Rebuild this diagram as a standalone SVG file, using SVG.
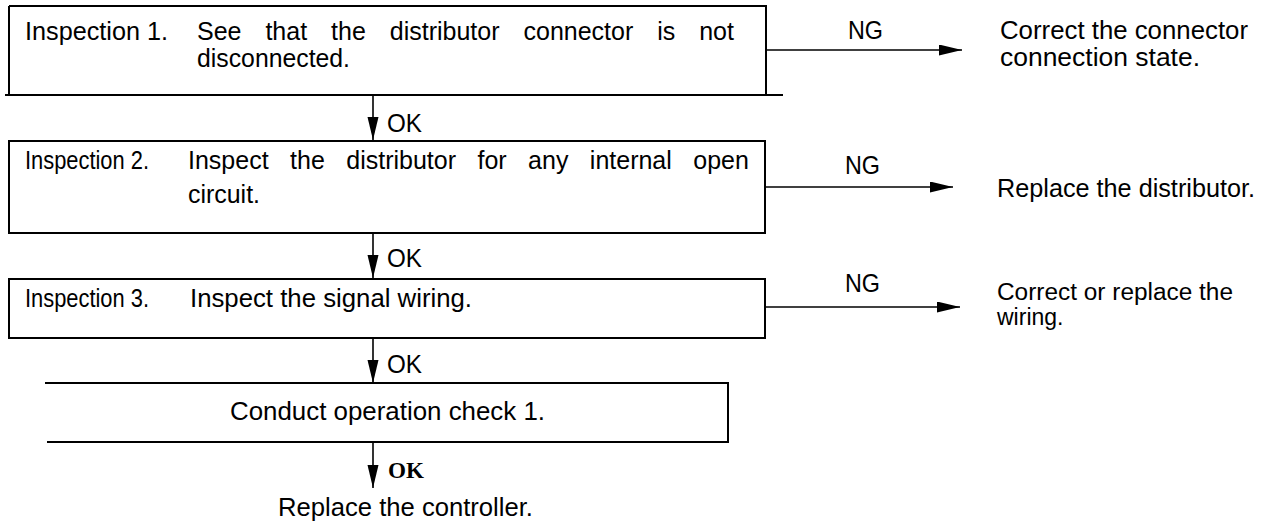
<svg xmlns="http://www.w3.org/2000/svg" width="1270" height="525" viewBox="0 0 1270 525">
<defs>
<marker id="ah" markerUnits="userSpaceOnUse" markerWidth="24" markerHeight="12" refX="23" refY="5.5" orient="auto">
<path d="M0,0 L23,5.5 L0,11 Z" fill="#000"/>
</marker>
</defs>
<style>
.box{fill:none;stroke:#000;stroke-width:2}
.ln{fill:none;stroke:#000;stroke-width:1.6}
.t{font-family:"Liberation Sans",Arial,sans-serif;font-size:25px;fill:#000}
.s{font-size:23px}
.ok2{font-family:"Liberation Serif","Times New Roman",serif;font-weight:bold;font-size:24px;fill:#000}
</style>
<rect width="1270" height="525" fill="#fff"/>
<g id="node-insp1">
<path class="box" d="M9,6 H766 V95 M9,6 V95 M5,95 H783"/>
<text class="t" x="25" y="40" textLength="143" lengthAdjust="spacingAndGlyphs">Inspection 1.</text>
<text class="t" x="197" y="40" word-spacing="17">See that the distributor connector is not</text>
<text class="t" x="197" y="67" textLength="153" lengthAdjust="spacingAndGlyphs">disconnected.</text>
</g>
<g id="node-fix1">
<text class="t" x="1000" y="39" textLength="248" lengthAdjust="spacingAndGlyphs">Correct the connector</text>
<text class="t" x="1000" y="66" textLength="200" lengthAdjust="spacingAndGlyphs">connection state.</text>
</g>
<g id="node-insp2">
<rect class="box" x="9" y="141" width="756" height="92"/>
<text class="t" x="25" y="169" font-size="24" textLength="124" lengthAdjust="spacingAndGlyphs">Inspection 2.</text>
<text class="t" x="188" y="169" word-spacing="14.5">Inspect the distributor for any internal open</text>
<text class="t" x="188" y="203" textLength="72" lengthAdjust="spacingAndGlyphs">circuit.</text>
</g>
<g id="node-fix2">
<text class="t" x="997" y="197" textLength="258" lengthAdjust="spacingAndGlyphs">Replace the distributor.</text>
</g>
<g id="node-insp3">
<rect class="box" x="9" y="279" width="756" height="59"/>
<text class="t" x="25" y="307" font-size="24" textLength="124" lengthAdjust="spacingAndGlyphs">Inspection 3.</text>
<text class="t" x="190" y="307" textLength="282" lengthAdjust="spacingAndGlyphs">Inspect the signal wiring.</text>
</g>
<g id="node-fix3">
<text class="t s" x="997" y="300" textLength="236" lengthAdjust="spacingAndGlyphs">Correct or replace the</text>
<text class="t s" x="997" y="325">wiring.</text>
</g>
<g id="node-check">
<path class="box" d="M45,383 H728 V442 H47"/>
<text class="t" x="230" y="420" textLength="315" lengthAdjust="spacingAndGlyphs">Conduct operation check 1.</text>
</g>
<g id="node-replace">
<text class="t" x="278" y="516" textLength="255" lengthAdjust="spacingAndGlyphs">Replace the controller.</text>
</g>
<g id="connectors">
<line class="ln" x1="766" y1="50" x2="962" y2="50" marker-end="url(#ah)"/>
<line class="ln" x1="765" y1="187" x2="953" y2="187" marker-end="url(#ah)"/>
<line class="ln" x1="765" y1="307" x2="960" y2="307" marker-end="url(#ah)"/>
<line class="ln" x1="373" y1="95" x2="373" y2="140" marker-end="url(#ah)"/>
<line class="ln" x1="373" y1="233" x2="373" y2="278" marker-end="url(#ah)"/>
<line class="ln" x1="373" y1="338" x2="373" y2="383" marker-end="url(#ah)"/>
<line class="ln" x1="373" y1="442" x2="373" y2="488" marker-end="url(#ah)"/>
<text class="t" x="848" y="39" textLength="35" lengthAdjust="spacingAndGlyphs">NG</text>
<text class="t" x="845" y="174" textLength="35" lengthAdjust="spacingAndGlyphs">NG</text>
<text class="t" x="845" y="292" textLength="35" lengthAdjust="spacingAndGlyphs">NG</text>
<text class="t" x="387" y="132" textLength="35" lengthAdjust="spacingAndGlyphs">OK</text>
<text class="t" x="387" y="267" textLength="35" lengthAdjust="spacingAndGlyphs">OK</text>
<text class="t" x="387" y="373" textLength="35" lengthAdjust="spacingAndGlyphs">OK</text>
<text class="ok2" x="388" y="478" textLength="36" lengthAdjust="spacingAndGlyphs">OK</text>
</g>
</svg>
